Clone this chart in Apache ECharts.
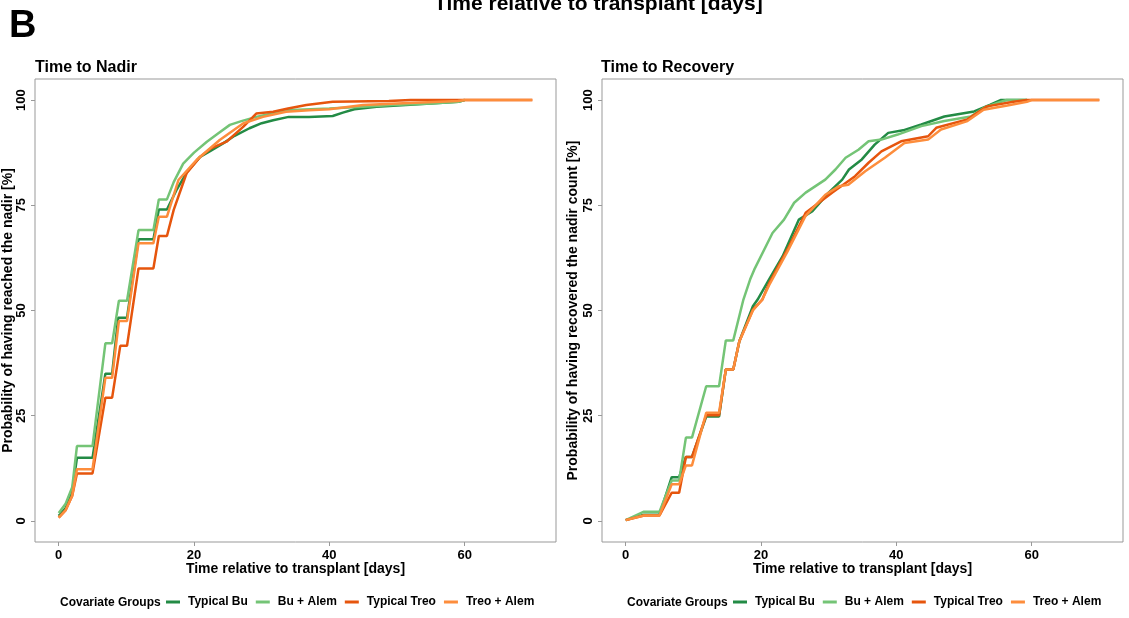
<!DOCTYPE html>
<html>
<head>
<meta charset="utf-8">
<title>Time to Nadir / Time to Recovery</title>
<script src="https://cdn.jsdelivr.net/npm/echarts@6/dist/echarts.min.js"></script>
<style>
  html, body { margin: 0; padding: 0; background: #fff; }
  #echart { width: 1129px; height: 618px; }
</style>
</head>
<body>
<div id="echart"></div>
<script>
// groups + colours
var groups = ["Typical Bu", "Bu + Alem", "Typical Treo", "Treo + Alem"];
var colors = ["#238b45", "#74c476", "#e6550d", "#fd8d3c"];
var xTicks = [0, 20, 40, 60];
var yTicks = [0, 25, 50, 75, 100];

// Time to Nadir: [day, %]
var nadirTypicalBu = [[0,1.2],[1,3],[2,7],[2.7,15],[5,15],[6.9,35],[7.9,35],[8.8,48.3],[10.1,48.3],[11.8,66.9],[14,66.9],[14.8,74],[16,74],[17.4,78.6],[19,83],[20.9,86.5],[22.5,88],[24.3,89.7],[26,91.5],[28.2,93.3],[30,94.5],[31.7,95.2],[34,96],[37,96],[40.5,96.2],[42,97],[43.7,97.8],[47,98.4],[51.3,98.8],[55,99.2],[59.1,99.6],[60,100]];
var nadirBuAlem = [[0,1.9],[1,4],[2,8],[2.7,17.8],[5,17.8],[6.9,42.2],[7.9,42.2],[8.9,52.3],[10.1,52.3],[11.8,69.1],[14,69.1],[14.8,76.4],[16,76.4],[17,80.5],[18.4,84.9],[20,87.5],[21.9,90.1],[23.5,92],[25.3,94.1],[27,95],[29.2,96],[33.6,97.6],[40,98],[45,98.4],[49.3,98.8],[55,99.2],[59.1,99.6],[60,100]];
var nadirTypicalTreo = [[0,0.8],[1,2.5],[2,6],[2.7,11.3],[5,11.3],[6.9,29.3],[7.9,29.3],[9.1,41.6],[10.1,41.6],[11.8,60],[14,60],[14.8,67.7],[16,67.7],[17,73.9],[18.9,82.6],[20.9,86.5],[22.5,88.5],[24.8,90.1],[27.3,93.7],[29.2,96.8],[31.7,97.2],[33.9,98],[36.6,98.8],[40.5,99.6],[48.8,99.8],[52,100],[70,100]];
var nadirTreoAlem = [[0,0.8],[1,2.5],[2,6],[2.7,12.3],[5,12.3],[6.9,34],[7.9,34],[8.9,47.5],[10.1,47.5],[11.8,66],[14,66],[14.8,72.3],[16,72.3],[17.7,81],[20.4,85.8],[23.8,90.5],[27.3,94.5],[30.2,96],[33.6,97.2],[37,97.6],[40,97.8],[45,98.8],[50,99.2],[59,99.8],[60,100],[70,100]];

// Time to Recovery: [day, %]
var recovTypicalBu = [[0,0.2],[2.7,1.5],[5,1.5],[6.8,10.4],[7.9,10.4],[8.9,15.2],[9.8,15.2],[11.9,24.8],[13.8,24.8],[14.8,36],[15.9,36],[16.8,42.7],[18.8,51],[19.5,52.6],[21.2,57.4],[23.2,62.9],[25.6,71.6],[27.6,73.6],[30,78],[32,81.1],[33,83.5],[34.9,85.9],[36.8,89.4],[38.8,92.2],[41,92.8],[43.7,94.2],[47.1,96.1],[51.5,97.3],[53.9,98.9],[55.4,100],[59.3,100]];
var recovBuAlem = [[0,0.2],[2.7,2.2],[5,2.2],[6.8,9.6],[7.9,9.6],[8.9,19.8],[9.8,19.8],[11.9,32],[13.8,32],[14.8,42.9],[15.9,42.9],[17.4,52.6],[18.4,57.4],[19,59.7],[21.7,68.4],[23.4,71.6],[24.9,75.6],[26.6,78],[29.5,81.1],[31,83.5],[32.5,86.3],[34.4,88.2],[35.9,90.2],[37.8,90.6],[40.2,91.8],[43.7,93.8],[47.1,95],[51,96.1],[52.9,98.1],[54.9,99.3],[56.3,100],[59.3,100]];
var recovTypicalTreo = [[0,0.2],[2.7,1.3],[5,1.3],[6.8,6.7],[7.9,6.7],[8.9,15.2],[9.8,15.2],[11.9,25.1],[13.8,25.1],[14.8,36],[15.9,36],[16.8,42.7],[18.8,50.2],[20.2,52.6],[21.2,56.5],[23.9,64.5],[26.6,73.2],[30.5,78],[33.9,81.9],[35.9,85.1],[37.8,87.8],[40.7,90.2],[44.7,91.4],[45.9,93.4],[50.5,95.4],[53.4,98.5],[57.3,99.6],[59.3,100],[70,100]];
var recovTreoAlem = [[0,0.2],[2.7,1.3],[5,1.3],[6.8,8.7],[7.9,8.7],[8.9,13.2],[9.8,13.2],[11.9,25.7],[13.8,25.7],[14.8,36],[15.9,36],[16.8,42.7],[18.8,50],[20.2,52.6],[21.2,56],[23.9,64],[26.6,72.5],[29.5,77.5],[31.5,79.5],[32.9,79.9],[35.4,83.1],[38.3,86.3],[41.2,89.8],[44.7,90.6],[46.6,93],[50.5,95],[52.9,97.7],[56.4,98.7],[59.3,99.6],[60,100],[70,100]];

var FONT = '"Liberation Sans", Arial, sans-serif';

function xAxisFor(idx) {
  return {
    gridIndex: idx,
    type: "value",
    min: -3.5,
    max: 73.5,
    name: "Time relative to transplant [days]",
    nameLocation: "middle",
    nameGap: 20,
    nameMoveOverlap: false,
    nameTextStyle: { color: "#000", fontWeight: "bold", fontSize: 14, fontFamily: FONT },
    axisLine: { show: false, onZero: false },
    axisTick: { show: true, length: 4, customValues: xTicks, lineStyle: { color: "#999" } },
    axisLabel: { customValues: xTicks, margin: 7, color: "#000", fontWeight: "bold", fontSize: 13, fontFamily: FONT },
    splitLine: { show: false }
  };
}

function yAxisFor(idx, label, gap) {
  return {
    gridIndex: idx,
    type: "value",
    min: -5,
    max: 105,
    name: label,
    nameLocation: "middle",
    nameGap: gap,
    nameMoveOverlap: false,
    nameTextStyle: { color: "#000", fontWeight: "bold", fontSize: 14, fontFamily: FONT },
    axisLine: { show: false, onZero: false },
    axisTick: { show: true, length: 4, customValues: yTicks, lineStyle: { color: "#999" } },
    axisLabel: { customValues: yTicks, rotate: 90, margin: 7, color: "#000", fontWeight: "bold", fontSize: 13, fontFamily: FONT },
    splitLine: { show: false }
  };
}

function lineSeries(name, idx, data, color) {
  return {
    name: name,
    type: "line",
    xAxisIndex: idx,
    yAxisIndex: idx,
    data: data,
    showSymbol: false,
    symbol: "none",
    silent: true,
    color: color,
    lineStyle: { width: 2.5, color: color }
  };
}

function legendFor(left) {
  return {
    data: groups,
    left: left,
    top: 596,
    padding: 0,
    icon: "rect",
    itemWidth: 14,
    itemHeight: 3,
    itemGap: 8,
    selectedMode: false,
    textStyle: { color: "#000", fontWeight: "bold", fontSize: 12, fontFamily: FONT, padding: [0, 0, 0, 3] }
  };
}

var myChart = echarts.init(document.getElementById("echart"));
myChart.setOption({
  animation: false,
  color: colors,
  title: [
    { text: "B", left: 4, top: 3, textStyle: { fontSize: 38, fontWeight: "bold", color: "#000", fontFamily: FONT } },
    { text: "Time to Nadir", left: 30, top: 55, textStyle: { fontSize: 16, fontWeight: "bold", color: "#000", fontFamily: FONT } },
    { text: "Time to Recovery", left: 596, top: 55, textStyle: { fontSize: 16, fontWeight: "bold", color: "#000", fontFamily: FONT } }
  ],
  graphic: [
    { type: "text", left: 434, top: -6, style: { text: "Time relative to transplant [days]", fill: "#000", font: "bold 21px " + FONT } },
    { type: "text", left: 60, top: 597, style: { text: "Covariate Groups", fill: "#000", font: "bold 12px " + FONT } },
    { type: "text", left: 627, top: 597, style: { text: "Covariate Groups", fill: "#000", font: "bold 12px " + FONT } }
  ],
  legend: [legendFor(166), legendFor(733)],
  grid: [
    { left: 35, top: 79, width: 521, height: 463, outerBoundsMode: "none", show: true, borderColor: "#999", borderWidth: 1, backgroundColor: "#fff" },
    { left: 602, top: 79, width: 521, height: 463, outerBoundsMode: "none", show: true, borderColor: "#999", borderWidth: 1, backgroundColor: "#fff" }
  ],
  xAxis: [xAxisFor(0), xAxisFor(1)],
  yAxis: [
    yAxisFor(0, "Probability of having reached the nadir [%]", 20),
    yAxisFor(1, "Probability of having recovered the nadir count [%]", 22)
  ],
  series: [
    lineSeries(groups[0], 0, nadirTypicalBu, colors[0]),
    lineSeries(groups[1], 0, nadirBuAlem, colors[1]),
    lineSeries(groups[2], 0, nadirTypicalTreo, colors[2]),
    lineSeries(groups[3], 0, nadirTreoAlem, colors[3]),
    lineSeries(groups[0], 1, recovTypicalBu, colors[0]),
    lineSeries(groups[1], 1, recovBuAlem, colors[1]),
    lineSeries(groups[2], 1, recovTypicalTreo, colors[2]),
    lineSeries(groups[3], 1, recovTreoAlem, colors[3])
  ]
});
</script>
</body>
</html>
